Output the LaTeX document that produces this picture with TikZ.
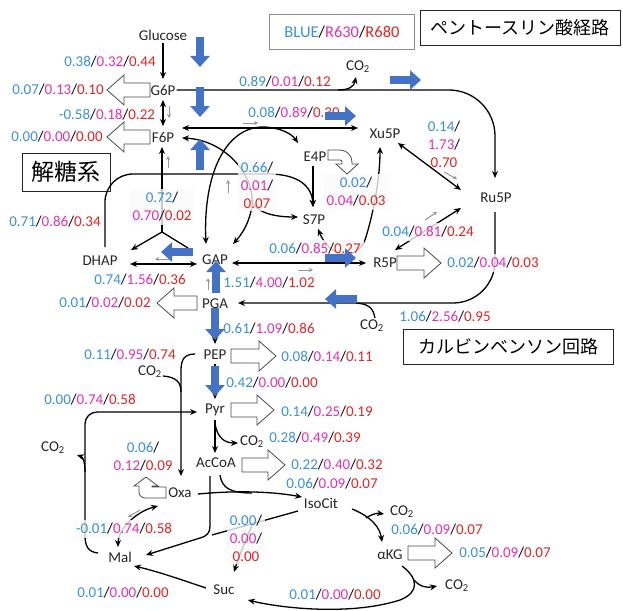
\documentclass[tikz,border=0pt]{standalone}
\usepackage{fontspec}
\setmainfont{Carlito}
\newfontfamily\jpfont{Noto Sans CJK JP}
\usetikzlibrary{arrows.meta}
\definecolor{fb}{RGB}{58,144,218}
\definecolor{fm}{RGB}{226,48,178}
\definecolor{fr}{RGB}{226,36,36}
\definecolor{bluearr}{RGB}{68,114,196}
\definecolor{grayarr}{RGB}{150,150,150}
\newcommand\fv[3]{\textcolor{fb}{#1}/\textcolor{fm}{#2}/\textcolor{fr}{#3}}
\newcommand\cotwo{CO\textsubscript{2}}
\newcommand\hollowright[4]{\draw[hol] (#1,#2-7) -- ++(#3,0) -- ++(0,-8) -- ++(#4,15) -- ++(-#4,15) -- ++(0,-8) -- ++(-#3,0) -- cycle;}
\newcommand\hollowleft[4]{\draw[hol] (#1,#2-7) -- ++(-#3,0) -- ++(0,-8) -- ++(-#4,15) -- ++(#4,15) -- ++(0,-8) -- ++(#3,0) -- cycle;}
\begin{document}
\begin{tikzpicture}[x=1pt,y=-1pt,
  every node/.style={font=\fontsize{15}{18}\selectfont, inner sep=1pt},
  met/.style={text=black!85},
  lab/.style={align=center},
  flab/.style={align=center, fill=black!2, fill opacity=0.8, text opacity=1, inner sep=3pt},
  arr/.style={line width=1.3pt, -{Stealth[length=7pt,width=6pt]}},
  darr/.style={line width=1.3pt, {Stealth[length=7pt,width=6pt]}-{Stealth[length=7pt,width=6pt]}},
  ln/.style={line width=1.3pt},
  garr/.style={line width=1pt, grayarr, -{Stealth[length=4pt,width=4pt]}},
  barr/.style={line width=8pt, bluearr, -{Triangle[length=11pt,width=19pt]}},
  hol/.style={draw=black!70, fill=white, line width=0.8pt},
  jbox/.style={draw=black!85, line width=1pt, fill=white, font=\jpfont\fontsize{18}{20}\selectfont},
]
\useasboundingbox (0,0) rectangle (623,610);

% ---------- title boxes
\node[draw=black!45, line width=0.8pt, minimum width=145pt, minimum height=35pt, font=\fontsize{16.5}{18}\selectfont] (legend) at (342,32) {\textcolor{fb}{BLUE}/\textcolor{fm}{R630}/\textcolor{fr}{R680}};
\node[jbox, minimum width=200pt, minimum height=35pt] (ppp) at (520,28) {ペントースリン酸経路};
\node[jbox, minimum width=88pt, minimum height=38pt, font=\jpfont\fontsize{23}{25}\selectfont] (glyc) at (66,172) {解糖系};
\node[jbox, minimum width=210pt, minimum height=35pt] (cbb) at (508,347) {カルビンベンソン回路};

% ---------- metabolites
\node[met] (glc) at (163,35) {Glucose};
\node[met] (g6p) at (163,90) {G6P};
\node[met] (f6p) at (163,137) {F6P};
\node[met] (e4p) at (315,157) {E4P};
\node[met] (xu5p) at (385,134) {Xu5P};
\node[met] (ru5p) at (496,198) {Ru5P};
\node[met] (s7p) at (314,220) {S7P};
\node[met] (dhap) at (100,261) {DHAP};
\node[met] (gap) at (215,260) {GAP};
\node[met] (r5p) at (385,263) {R5P};
\node[met] (pga) at (215,304) {PGA};
\node[met] (pep) at (215,355) {PEP};
\node[met] (pyr) at (215,410) {Pyr};
\node[met] (accoa) at (216,463) {AcCoA};
\node[met] (oxa) at (180,493) {Oxa};
\node[met] (isocit) at (321,503) {IsoCit};
\node[met] (akg) at (390,555) {αKG};
\node[met] (mal) at (120,557) {Mal};
\node[met] (suc) at (224,590) {Suc};
\node[met] (co2a) at (358,67) {\cotwo};
\node[met] (co2b) at (372,326) {\cotwo};
\node[met] (co2c) at (150,372) {\cotwo};
\node[met] (co2d) at (252,442) {\cotwo};
\node[met] (co2e) at (53,448) {\cotwo};
\node[met] (co2f) at (402,512) {\cotwo};
\node[met] (co2g) at (457,586) {\cotwo};

% ---------- connectors (glycolysis / PPP)
\draw[arr] (glc.south) ++(0,2) -- (163,79);
\draw[darr] (163,100) -- (163,126);
\draw[arr, rounded corners=46pt] (g6p.east) -- (495,90) -- (495,178);
\draw[arr] (338,90) .. controls (350,90) and (354,86) .. (356,77);
\draw[arr, rounded corners=42pt] (495,212) -- (495,303) -- (238,303);
\draw[ln] (375,318) .. controls (373,308) and (369,304) .. (356,303);

\coordinate (yj) at (162,232);
\draw[arr] (yj) -- (162,147);
\draw[arr] (yj) -- (131,250);
\draw[ln] (yj) -- (188,248);

\draw[darr] (130,264) -- (197,264);
\draw[darr] (182,128) -- (358,128);
\draw[darr] (206,244) .. controls (203,175) and (225,128) .. (262,127) .. controls (280,127) and (292,134) .. (298,143);
\draw[darr] (182,138) .. controls (225,140) and (255,175) .. (252,205) .. controls (250,222) and (242,234) .. (233,244);
\draw[arr] (251,200) .. controls (256,213) and (275,217) .. (298,217);
\draw[arr] (105,247) -- (105,202) arc[start angle=180,end angle=270,radius=28] -- (268,174) .. controls (298,174) and (312,186) .. (313,207);
\draw[arr] (313,166) -- (313,207);
\draw[darr] (318,229) .. controls (330,258) and (355,262) .. (365,240) .. controls (373,215) and (380,180) .. (380,147);
\draw[darr] (232,263) -- (366,263);
\draw[darr] (398,143) -- (461,190);
\draw[darr] (395,250) -- (461,208);

% ---------- lower part
\draw[arr] (215,311) -- (215,344);
\draw[arr] (215,364) -- (215,399);
\draw[arr] (195,354) .. controls (185,354) and (181,359) .. (181,370) -- (181,476);
\draw[ln] (163,376) .. controls (176,377) and (181,382) .. (181,392);
\draw[arr] (98,553) .. controls (88,552) and (85,546) .. (85,535) -- (85,424) arc[start angle=180,end angle=270,radius=12] -- (197,412);
\draw[arr] (85,472) .. controls (85,462) and (83,457) .. (77,455);
\draw[arr] (215,420) -- (215,453);
\draw[arr] (215,423) .. controls (217,438) and (225,443) .. (238,443);
\draw[ln] (220,475) .. controls (222,488) and (230,493) .. (252,493);
\draw[arr] (198,494) .. controls (240,490) and (275,492) .. (302,497);
\draw[arr] (210,476) -- (210,526) .. controls (210,533) and (207,536) .. (200,538) -- (146,555);
\draw[ln] (298,511) -- (212,535);
\draw[arr] (252,525) .. controls (246,540) and (239,556) .. (234,572);
\draw[arr] (352,509) .. controls (372,517) and (380,528) .. (382,542);
\draw[arr] (366,518) .. controls (372,514) and (377,513) .. (384,514);
\draw[arr] (402,566) .. controls (418,578) and (420,592) .. (400,600) .. controls (350,616) and (280,608) .. (248,600);
\draw[arr] (414,580) .. controls (420,587) and (427,588) .. (437,586);
\draw[arr] (206,588) .. controls (185,581) and (160,572) .. (134,566);
\draw[darr] (118,547) .. controls (118,530) and (135,512) .. (158,506);

% ---------- small gray arrows
\draw[garr] (169,106) -- (169,118);
\draw[garr] (168,168) -- (168,156);
\draw[garr] (243,123) -- (258,123);
\draw[garr] (228,193) -- (228,180);
\draw[garr] (170,259) -- (155,259);
\draw[garr] (298,270) -- (313,270);
\draw[garr] (208,290) -- (208,278);
\draw[garr] (444,172) -- (457,179);
\draw[garr] (425,220) -- (437,212);
\draw[garr] (140,510) -- (128,517);

% ---------- flux labels
\node[lab] (l01) at (110,62) {\fv{0.38}{0.32}{0.44}};
\node[lab] (l02) at (58,90) {\fv{0.07}{0.13}{0.10}};
\node[lab] (l03) at (107,115) {\fv{-0.58}{0.18}{0.22}};
\node[lab] (l04) at (57,137) {\fv{0.00}{0.00}{0.00}};
\node[lab] (l05) at (285,82) {\fv{0.89}{0.01}{0.12}};
\node[lab] (l06) at (294,113) {\fv{0.08}{0.89}{0.30}};
\node[lab] (l07) at (444,144) {\textcolor{fb}{0.14}/\\\textcolor{fm}{1.73}/\\\textcolor{fr}{0.70}};
\node[flab] (l08) at (257,185) {\textcolor{fb}{0.66}/\\\textcolor{fm}{0.01}/\\\textcolor{fr}{0.07}};
\node[flab] (l09) at (162,207) {\textcolor{fb}{0.72}/\\\textcolor{fm}{0.70}/\textcolor{fr}{0.02}};
\node[lab] (l10) at (55,222) {\fv{0.71}{0.86}{0.34}};
\node[flab] (l11) at (356,192) {\textcolor{fb}{0.02}/\\\textcolor{fm}{0.04}/\textcolor{fr}{0.03}};
\node[flab] (l12) at (315,249) {\fv{0.06}{0.85}{0.27}};
\node[flab] (l13) at (428,232) {\fv{0.04}{0.81}{0.24}};
\node[lab] (l14) at (140,280) {\fv{0.74}{1.56}{0.36}};
\node[lab] (l15) at (269,283) {\fv{1.51}{4.00}{1.02}};
\node[lab] (l16) at (105,303) {\fv{0.01}{0.02}{0.02}};
\node[flab] (l17) at (493,263) {\fv{0.02}{0.04}{0.03}};
\node[lab] (l18) at (445,317) {\fv{1.06}{2.56}{0.95}};
\node[lab] (l19) at (269,329) {\fv{0.61}{1.09}{0.86}};
\node[lab] (l20) at (130,355) {\fv{0.11}{0.95}{0.74}};
\node[lab] (l21) at (327,357) {\fv{0.08}{0.14}{0.11}};
\node[lab] (l22) at (272,383) {\fv{0.42}{0.00}{0.00}};
\node[lab] (l23) at (90,400) {\fv{0.00}{0.74}{0.58}};
\node[lab] (l24) at (327,412) {\fv{0.14}{0.25}{0.19}};
\node[lab] (l25) at (315,438) {\fv{0.28}{0.49}{0.39}};
\node[lab] (l26) at (143,457) {\textcolor{fb}{0.06}/\\\textcolor{fm}{0.12}/\textcolor{fr}{0.09}};
\node[lab] (l27) at (337,465) {\fv{0.22}{0.40}{0.32}};
\node[lab] (l28) at (332,484) {\fv{0.06}{0.09}{0.07}};
\node[flab] (l29) at (124,529) {\fv{-0.01}{0.74}{0.58}};
\node[flab] (l30) at (246,538) {\textcolor{fb}{0.00}/\\\textcolor{fm}{0.00}/\\\textcolor{fr}{0.00}};
\node[lab] (l31) at (437,530) {\fv{0.06}{0.09}{0.07}};
\node[lab] (l32) at (505,553) {\fv{0.05}{0.09}{0.07}};
\node[lab] (l33) at (123,593) {\fv{0.01}{0.00}{0.00}};
\node[lab] (l34) at (335,595) {\fv{0.01}{0.00}{0.00}};

% ---------- blue flux arrows
\draw[barr] (200,37) -- (200,67);
\draw[barr] (200,87) -- (200,117);
\draw[barr] (200,170) -- (200,139);
\draw[barr] (390,80) -- (421,80);
\draw[barr] (325,116) -- (356,116);
\draw[barr] (193,252) -- (161,252);
\draw[barr] (216,293) -- (216,261);
\draw[barr] (325,258) -- (356,258);
\draw[barr] (357,299) -- (325,299);
\draw[barr] (215,308) -- (215,340);
\draw[barr] (215,366) -- (215,396);

% ---------- hollow outflow arrows
\hollowleft{150}{90}{26}{17}
\hollowleft{150}{137}{26}{17}
\hollowleft{197}{303}{23}{17}
\hollowright{397}{263}{27}{17}
\hollowright{231}{356}{28}{17}
\hollowright{231}{410}{26}{17}
\hollowright{242}{465}{26}{17}
\hollowright{408}{553}{27}{17}
\draw[hol] (328,150) -- (340,150) arc[start angle=270,end angle=360,radius=12] -- (352,164) -- (358,164) -- (347,174) -- (336,164) -- (342,164) -- (342,162) arc[start angle=0,end angle=-90,radius=2] -- (328,160) -- cycle;
\draw[hol] (166,487) -- (166,498) -- (145,498) arc[start angle=90,end angle=180,radius=6] -- (139,486) -- (134,486) -- (146,477) -- (158,486) -- (152,486) -- (152,487) -- cycle;
\end{tikzpicture}
\end{document}
